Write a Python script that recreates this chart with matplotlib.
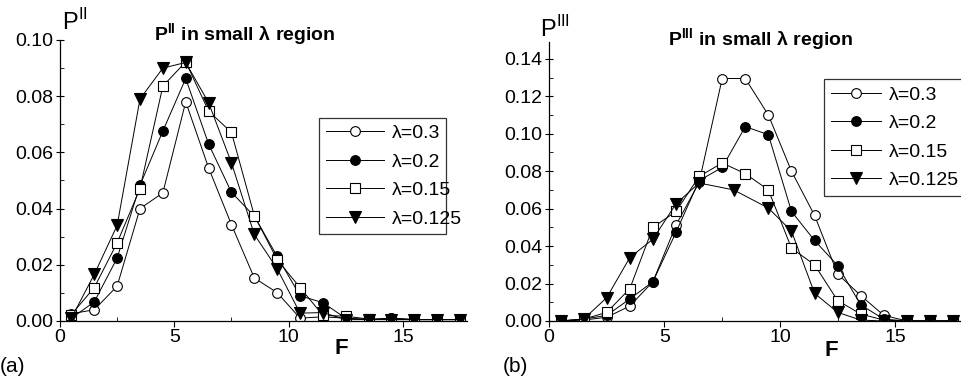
import numpy as np
import matplotlib
matplotlib.use('Agg')
import matplotlib.pyplot as plt
from matplotlib.ticker import MultipleLocator

plt.rcParams['font.family'] = ['Liberation Sans', 'DejaVu Sans']
plt.rcParams['mathtext.fontset'] = 'custom'
plt.rcParams['mathtext.rm'] = 'Liberation Sans'
plt.rcParams['mathtext.bf'] = 'Liberation Sans:bold'

labels = ['λ=0.3', 'λ=0.2', 'λ=0.15', 'λ=0.125']
F = [0.5, 1.5, 2.5, 3.5, 4.5, 5.5, 6.5, 7.5, 8.5, 9.5, 10.5, 11.5, 12.5, 13.5, 14.5, 15.5, 16.5, 17.5]

# panel (a): P^II
p2_03 = [0.0026, 0.0040, 0.0124, 0.0400, 0.0456, 0.0780, 0.0545, 0.0343, 0.0153, 0.0101,
         0.0010, 0.0015, 0.0010, 0.0005, 0.0010, 0.0005, 0.0005, 0.0005]
p2_02 = [0.0010, 0.0068, 0.0224, 0.0483, 0.0676, 0.0863, 0.0630, 0.0458, 0.0373, 0.0230,
         0.0090, 0.0065, 0.0010, 0.0005, 0.0010, 0.0005, 0.0005, 0.0005]
p2_015 = [0.0023, 0.0119, 0.0278, 0.0471, 0.0836, 0.0922, 0.0747, 0.0671, 0.0375, 0.0218,
          0.0119, 0.0020, 0.0017, 0.0007, 0.0005, 0.0005, 0.0005, 0.0005]
p2_0125 = [0.0010, 0.0166, 0.0340, 0.0790, 0.0900, 0.0920, 0.0777, 0.0563, 0.0308, 0.0186,
           0.0028, 0.0030, 0.0005, 0.0005, 0.0005, 0.0005, 0.0005, 0.0005]

# panel (b): P^III
F_b125 = [0.5, 1.5, 2.5, 3.5, 4.5, 5.5, 6.5, 8.0, 9.5, 10.5, 11.5, 12.5, 13.5, 14.5, 15.5, 16.5, 17.5]
p3_03 = [0.0, 0.0005, 0.0020, 0.0080, 0.0210, 0.0512, 0.0740, 0.1295, 0.1295, 0.1100,
         0.0800, 0.0564, 0.0251, 0.0136, 0.0030, 0.0, 0.0, 0.0]
p3_02 = [0.0, 0.0010, 0.0030, 0.0118, 0.0210, 0.0474, 0.0750, 0.0820, 0.1038, 0.0995,
         0.0585, 0.0430, 0.0296, 0.0086, 0.0010, 0.0, 0.0, 0.0]
p3_015 = [0.0, 0.0010, 0.0046, 0.0173, 0.0500, 0.0585, 0.0772, 0.0844, 0.0787, 0.0700,
          0.0389, 0.0300, 0.0109, 0.0037, 0.0005, 0.0, 0.0, 0.0]
p3_0125 = [0.0, 0.0010, 0.0125, 0.0339, 0.0437, 0.0626, 0.0737, 0.0700, 0.0603, 0.0480,
           0.0148, 0.0046, 0.0005, 0.0, 0.0, 0.0, 0.0]

styles = [dict(marker='o', mfc='white', ms=7), dict(marker='o', mfc='black', ms=7),
          dict(marker='s', mfc='white', ms=6.5), dict(marker='v', mfc='black', ms=8)]

fig = plt.figure(figsize=(9.61, 3.86), dpi=100)
ax1 = fig.add_axes([0.0624, 0.1684, 0.4235, 0.728])
ax2 = fig.add_axes([0.5713, 0.1684, 0.4277, 0.7228])


def style_axes(ax, ymax, ystep):
    ax.set_xlim(0, 17.8)
    ax.set_ylim(0, ymax)
    for s in ['top', 'right']:
        ax.spines[s].set_visible(False)
    for s in ['left', 'bottom']:
        ax.spines[s].set_linewidth(0.9)
    ax.xaxis.set_major_locator(MultipleLocator(5))
    ax.xaxis.set_minor_locator(MultipleLocator(2.5))
    ax.yaxis.set_major_locator(MultipleLocator(ystep))
    ax.yaxis.set_minor_locator(MultipleLocator(ystep / 2))
    ax.yaxis.set_major_formatter(matplotlib.ticker.FormatStrFormatter('%.2f'))
    ax.tick_params(axis='x', which='major', direction='out', length=4, labelsize=14, pad=2)
    ax.tick_params(axis='x', which='minor', direction='in', length=3)
    ax.tick_params(axis='y', which='major', direction='inout', length=6, labelsize=14, pad=2)
    ax.tick_params(axis='y', which='minor', direction='in', length=3)


series_a = [p2_03, p2_02, p2_015, p2_0125]
for vals, st, lab in zip(series_a, styles, labels):
    ax1.plot(F, vals, color='black', lw=0.7, mec='black', mew=0.8, label=lab, **st)
style_axes(ax1, 0.10, 0.02)
leg = ax1.legend(loc='center', bbox_to_anchor=(0.612, 0.285, 0.361, 0.462), mode='expand',
                 frameon=True, fancybox=False, edgecolor='black', fontsize=14,
                 handlelength=3.0, handletextpad=0.4, labelspacing=0.56, borderpad=0.35)
leg.get_frame().set_linewidth(0.9)

xs_b = [F, F, F, F_b125]
series_b = [p3_03, p3_02, p3_015, p3_0125]
for xs, vals, st, lab in zip(xs_b, series_b, styles, labels):
    ax2.plot(xs, vals, color='black', lw=0.7, mec='black', mew=0.8, label=lab, **st)
style_axes(ax2, 0.149, 0.02)
leg2 = ax2.legend(loc='upper left', bbox_to_anchor=(0.669, 0.867), frameon=True,
                  fancybox=False, edgecolor='black', fontsize=14, handlelength=2.6,
                  handletextpad=0.4, labelspacing=0.56, borderpad=0.35, borderaxespad=0)
leg2.get_frame().set_linewidth(0.9)

# titles and axis labels placed like the original figure
fig.text(0.064, 0.922, r'P$^{\mathrm{II}}$', fontsize=17, ha='left', va='baseline')
fig.text(0.255, 0.909, r'P$^{\mathbf{II}}$ in small λ region', fontsize=14,
         fontweight='bold', ha='center', va='center')
fig.text(0.355, 0.098, 'F', fontsize=16, fontweight='bold', ha='center', va='center')
fig.text(0.0, 0.05, '(a)', fontsize=15, ha='left', va='center')

fig.text(0.562, 0.904, r'P$^{\mathrm{III}}$', fontsize=17, ha='left', va='baseline')
fig.text(0.791, 0.896, r'P$^{\mathbf{III}}$ in small λ region', fontsize=14,
         fontweight='bold', ha='center', va='center')
fig.text(0.865, 0.093, 'F', fontsize=16, fontweight='bold', ha='center', va='center')
fig.text(0.523, 0.05, '(b)', fontsize=15, ha='left', va='center')

fig.savefig('out.png', dpi=100)
